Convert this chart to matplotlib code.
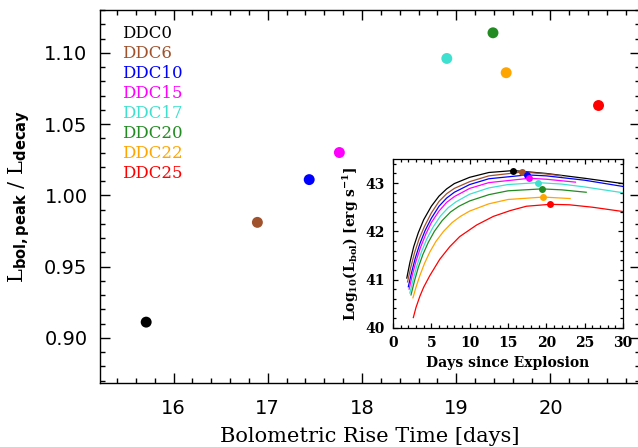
import matplotlib
matplotlib.use("Agg")
import matplotlib.pyplot as plt
from matplotlib.ticker import MultipleLocator, FormatStrFormatter

plt.rcParams['mathtext.fontset'] = 'custom'
plt.rcParams['mathtext.rm'] = 'DejaVu Serif'
plt.rcParams['mathtext.bf'] = 'DejaVu Serif:bold'
plt.rcParams['mathtext.sf'] = 'DejaVu Sans:bold'
plt.rcParams['mathtext.it'] = 'DejaVu Serif:italic'

# ---------------- data ----------------
models = ["DDC0", "DDC6", "DDC10", "DDC15", "DDC17", "DDC20", "DDC22", "DDC25"]
colors = ["black", "#A0522D", "blue", "magenta", "#40E0D0", "#228B22", "orange", "red"]

rise_time = [15.71, 16.89, 17.44, 17.76, 18.90, 19.39, 19.53, 20.51]
lum_ratio = [0.911, 0.981, 1.011, 1.030, 1.096, 1.114, 1.086, 1.063]

peak_logL = [43.26, 43.23, 43.17, 43.10, 43.01, 42.88, 42.71, 42.56]

days_ddc0 = [1.8, 2.2, 2.7, 3.3, 4.0, 5.0, 6.0, 7.0, 8.0, 10.0, 12.5, 15.7, 20.0, 25.0, 30.0]
logl_ddc0 = [41.03, 41.35, 41.68, 41.97, 42.24, 42.52, 42.73, 42.88, 42.99, 43.12, 43.22, 43.26, 43.20, 43.10, 42.99]

days_ddc6 = [1.9, 2.3, 2.8, 3.4, 4.1, 5.0, 6.0, 7.0, 8.0, 10.0, 12.5, 16.9, 20.0, 22.0]
logl_ddc6 = [40.95, 41.24, 41.55, 41.84, 42.10, 42.38, 42.62, 42.78, 42.89, 43.03, 43.15, 43.23, 43.19, 43.15]

days_ddc10 = [2.0, 2.4, 2.9, 3.5, 4.2, 5.0, 6.0, 7.0, 8.0, 10.0, 12.5, 17.5, 20.0, 25.0, 30.0]
logl_ddc10 = [40.85, 41.13, 41.44, 41.74, 42.02, 42.27, 42.52, 42.69, 42.81, 42.97, 43.09, 43.17, 43.15, 43.06, 42.93]

days_ddc15 = [2.1, 2.5, 3.0, 3.6, 4.3, 5.0, 6.0, 7.0, 8.0, 10.0, 12.5, 17.8, 20.0, 23.8]
logl_ddc15 = [40.80, 41.08, 41.38, 41.67, 41.95, 42.18, 42.42, 42.60, 42.72, 42.89, 43.01, 43.10, 43.08, 43.02]

days_ddc17 = [2.2, 2.6, 3.1, 3.7, 4.4, 5.2, 6.2, 7.2, 8.2, 10.0, 12.5, 15.0, 18.9, 22.0, 25.0, 30.0]
logl_ddc17 = [40.72, 40.98, 41.28, 41.57, 41.84, 42.08, 42.32, 42.49, 42.61, 42.77, 42.90, 42.97, 43.01, 42.98, 42.92, 42.80]

days_ddc20 = [2.35, 2.8, 3.3, 3.9, 4.6, 5.4, 6.4, 7.5, 8.6, 10.0, 12.5, 15.0, 19.4, 22.0, 25.2]
logl_ddc20 = [40.68, 40.97, 41.25, 41.52, 41.77, 42.00, 42.22, 42.40, 42.52, 42.63, 42.76, 42.84, 42.88, 42.86, 42.81]

days_ddc22 = [2.6, 3.0, 3.5, 4.1, 4.8, 5.6, 6.6, 7.7, 8.8, 10.0, 12.5, 15.0, 19.6, 23.1]
logl_ddc22 = [40.62, 40.84, 41.08, 41.33, 41.57, 41.79, 42.00, 42.18, 42.31, 42.42, 42.57, 42.66, 42.71, 42.68]

days_ddc25 = [2.65, 3.0, 3.5, 4.0, 4.8, 6.1, 7.4, 8.7, 10.9, 13.1, 15.3, 17.4, 20.5, 23.0, 26.0, 30.0]
logl_ddc25 = [40.21, 40.42, 40.65, 40.84, 41.08, 41.42, 41.68, 41.89, 42.13, 42.31, 42.43, 42.52, 42.56, 42.55, 42.50, 42.41]

curve_days = [days_ddc0, days_ddc6, days_ddc10, days_ddc15, days_ddc17, days_ddc20, days_ddc22, days_ddc25]
curve_logl = [logl_ddc0, logl_ddc6, logl_ddc10, logl_ddc15, logl_ddc17, logl_ddc20, logl_ddc22, logl_ddc25]

# ---------------- figure ----------------
W, H = 638, 447
fig = plt.figure(figsize=(W / 100, H / 100), dpi=100)

def rect(x0, y0, x1, y1):
    return [x0 / W, 1 - y1 / H, (x1 - x0) / W, (y1 - y0) / H]

ax = fig.add_axes(rect(100, 10, 640, 382.7))
ax.scatter(rise_time, lum_ratio, s=62, c=colors, edgecolors='none', zorder=3)
ax.set_xlim(15.22, 20.95)
ax.set_ylim(0.8685, 1.130)
ax.xaxis.set_major_locator(MultipleLocator(1))
ax.xaxis.set_minor_locator(MultipleLocator(0.2))
ax.yaxis.set_major_locator(MultipleLocator(0.05))
ax.yaxis.set_minor_locator(MultipleLocator(0.01))
ax.yaxis.set_major_formatter(FormatStrFormatter('%.2f'))
ax.tick_params(which='both', direction='in', top=True, right=True, width=1.0)
ax.tick_params(which='major', length=7.2, labelsize=14, pad=9)
ax.tick_params(which='minor', length=3.6)
ax.tick_params(axis='x', which='major', pad=12)
for sp in ax.spines.values():
    sp.set_linewidth(1.0)
ax.set_xlabel('Bolometric Rise Time [days]', family='DejaVu Serif', fontsize=15, labelpad=6)
ax.set_ylabel(r'$\mathrm{L}_{\mathsf{bol,peak}}\mathrm{\ /\ L}_{\mathsf{decay}}$', fontsize=15, labelpad=9)

for i, (name, col) in enumerate(zip(models, colors)):
    ax.text(0.0407, 0.9375 - i * 0.0537, name, color=col, transform=ax.transAxes,
            family='DejaVu Serif', fontsize=12, va='center', ha='left')

# ---------------- inset ----------------
ins = fig.add_axes(rect(393, 159, 623, 327.7))
for d, l, col in zip(curve_days, curve_logl, colors):
    ins.plot(d, l, color=col, lw=0.9)
for t, p, col in zip(rise_time, peak_logL, colors):
    ins.plot([t], [p], 'o', color=col, ms=5, mec='none', zorder=4)
ins.set_xlim(0, 30)
ins.set_ylim(40.0, 43.5)
ins.xaxis.set_major_locator(MultipleLocator(5))
ins.xaxis.set_minor_locator(MultipleLocator(1))
ins.yaxis.set_major_locator(MultipleLocator(1))
ins.yaxis.set_minor_locator(MultipleLocator(0.2))
ins.tick_params(which='both', direction='in', top=True, right=True, width=0.9)
ins.tick_params(which='major', length=3.5, pad=6)
ins.tick_params(which='minor', length=2)
for lab in ins.get_xticklabels() + ins.get_yticklabels():
    lab.set_family('DejaVu Serif')
    lab.set_fontweight('bold')
    lab.set_fontsize(10)
for sp in ins.spines.values():
    sp.set_linewidth(0.9)
ins.set_xlabel('Days since Explosion', family='DejaVu Serif', fontweight='bold', fontsize=10, labelpad=4)
ins.set_ylabel(r'$\mathbf{Log_{10}(L_{bol})\ [erg\ s^{-1}]}$', fontsize=10, labelpad=3)

fig.savefig('out.png', dpi=100)
